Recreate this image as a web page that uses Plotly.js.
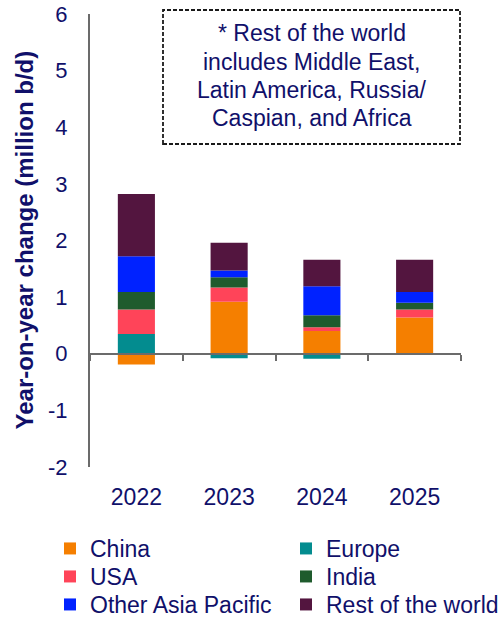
<!DOCTYPE html>
<html>
<head>
<meta charset="utf-8">
<script src="https://cdn.plot.ly/plotly-3.0.1.min.js"></script>
<style>
  html, body { margin: 0; padding: 0; background: #fff; }
  #chart { width: 504px; height: 619px; }
</style>
</head>
<body>
<div id="chart"></div>
<script>
// Data (million b/d, year-on-year change)
const years = ['2022', '2023', '2024', '2025'];
const china = [-0.19, 0.92, 0.40, 0.64];
const europe = [0.35, -0.08, -0.09, 0.0];
const usa = [0.43, 0.25, 0.07, 0.14];
const india = [0.31, 0.18, 0.21, 0.12];
const otherAsiaPacific = [0.63, 0.12, 0.51, 0.19];
const restOfWorld = [1.10, 0.49, 0.47, 0.57];
const yTicks = [-2, -1, 0, 1, 2, 3, 4, 5, 6];
const noteLines = ['* Rest of the world', 'includes Middle East,', 'Latin America, Russia/', 'Caspian, and Africa'];

const textColor = '#10106a';
const axisColor = '#6b6b6b';
const font = 'Liberation Sans, Arial, sans-serif';

const series = [
  { name: 'China', y: china, color: '#F57F00' },
  { name: 'Europe', y: europe, color: '#038C8F' },
  { name: 'USA', y: usa, color: '#FF4459' },
  { name: 'India', y: india, color: '#1F5B2D' },
  { name: 'Other Asia Pacific', y: otherAsiaPacific, color: '#0022FF' },
  { name: 'Rest of the world', y: restOfWorld, color: '#53153F' }
];

// one legend box per entry, laid out as a 2-column grid (row-major)
const legendCols = [50, 286];        // px from left of page
const legendRows = [527, 555, 583];  // px from top of page (box tops)
const legendIds = series.map((s, i) => i === 0 ? 'legend' : 'legend' + (i + 1));

const traces = series.map((s, i) => ({
  type: 'bar',
  name: s.name,
  x: years,
  y: s.y,
  width: 0.4,
  legend: legendIds[i],
  marker: { color: s.color, line: { width: 0 } },
  hoverinfo: 'x+y+name'
}));

// invisible helper trace so the zero-line category axis (x2) is drawn
traces.push({
  type: 'scatter',
  mode: 'none',
  x: years,
  y: china,
  xaxis: 'x2',
  yaxis: 'y',
  showlegend: false,
  hoverinfo: 'skip'
});

const W = 504, H = 619;
const margin = { l: 90, r: 43, t: 14, b: 152, autoexpand: false };
const plotW = W - margin.l - margin.r;
const plotH = H - margin.t - margin.b;
const pxToPaperX = px => (px - margin.l) / plotW;
const pxToPaperY = py => (H - margin.b - py) / plotH;

const layout = {
  width: W,
  height: H,
  margin: margin,
  paper_bgcolor: '#ffffff',
  plot_bgcolor: '#ffffff',
  barmode: 'relative',
  font: { family: font, color: textColor, size: 22 },
  showlegend: true,
  xaxis: {
    type: 'category',
    showline: false,
    showgrid: false,
    zeroline: false,
    ticks: 'outside',
    ticklen: 9,
    tickcolor: 'rgba(0,0,0,0)',
    tickfont: { size: 23, color: textColor, family: font },
    fixedrange: true,
    automargin: false
  },
  xaxis2: {
    type: 'category',
    overlaying: 'x',
    matches: 'x',
    anchor: 'free',
    position: 0.25,
    showline: true,
    linecolor: axisColor,
    linewidth: 2,
    ticks: 'outside',
    tickson: 'boundaries',
    ticklen: 6,
    tickwidth: 2,
    tickcolor: axisColor,
    showticklabels: false,
    showgrid: false,
    zeroline: false,
    layer: 'above traces',
    automargin: false
  },
  yaxis: {
    range: [-2, 6],
    tickvals: yTicks,
    ticktext: yTicks.map(String),
    showline: true,
    linecolor: axisColor,
    linewidth: 2,
    showgrid: false,
    zeroline: false,
    ticks: 'outside',
    ticklen: 16,
    tickcolor: 'rgba(0,0,0,0)',
    tickfont: { size: 22, color: textColor, family: font },
    fixedrange: true,
    automargin: false
  },
  shapes: [{
    type: 'rect',
    xref: 'paper',
    yref: 'paper',
    x0: pxToPaperX(163), x1: pxToPaperX(460),
    y0: pxToPaperY(144), y1: pxToPaperY(10),
    line: { color: '#1a1a1a', width: 1.8, dash: '4px,2px' },
    fillcolor: 'rgba(0,0,0,0)'
  }],
  annotations: [{
    xref: 'paper',
    yref: 'paper',
    x: pxToPaperX(24),
    y: 0.5,
    xanchor: 'center',
    yanchor: 'middle',
    textangle: -90,
    showarrow: false,
    text: '<b>Year-on-year change (million b/d)</b>',
    font: { size: 24, color: textColor, family: font }
  }].concat(noteLines.map((line, i) => ({
    xref: 'paper',
    yref: 'paper',
    x: pxToPaperX(311.7),
    y: pxToPaperY(33.3 + i * 28.35),
    xanchor: 'center',
    yanchor: 'middle',
    showarrow: false,
    text: line,
    font: { size: 23, color: textColor, family: font }
  })))
};

legendIds.forEach((id, i) => {
  layout[id] = {
    orientation: 'v',
    xref: 'container',
    yref: 'container',
    x: legendCols[i % 2] / W,
    xanchor: 'left',
    y: 1 - legendRows[Math.floor(i / 2)] / H,
    yanchor: 'top',
    font: { size: 23, color: textColor, family: font },
    itemclick: false,
    bgcolor: 'rgba(0,0,0,0)'
  };
});

Plotly.newPlot('chart', traces, layout, { displayModeBar: false, staticPlot: true });
</script>
</body>
</html>
